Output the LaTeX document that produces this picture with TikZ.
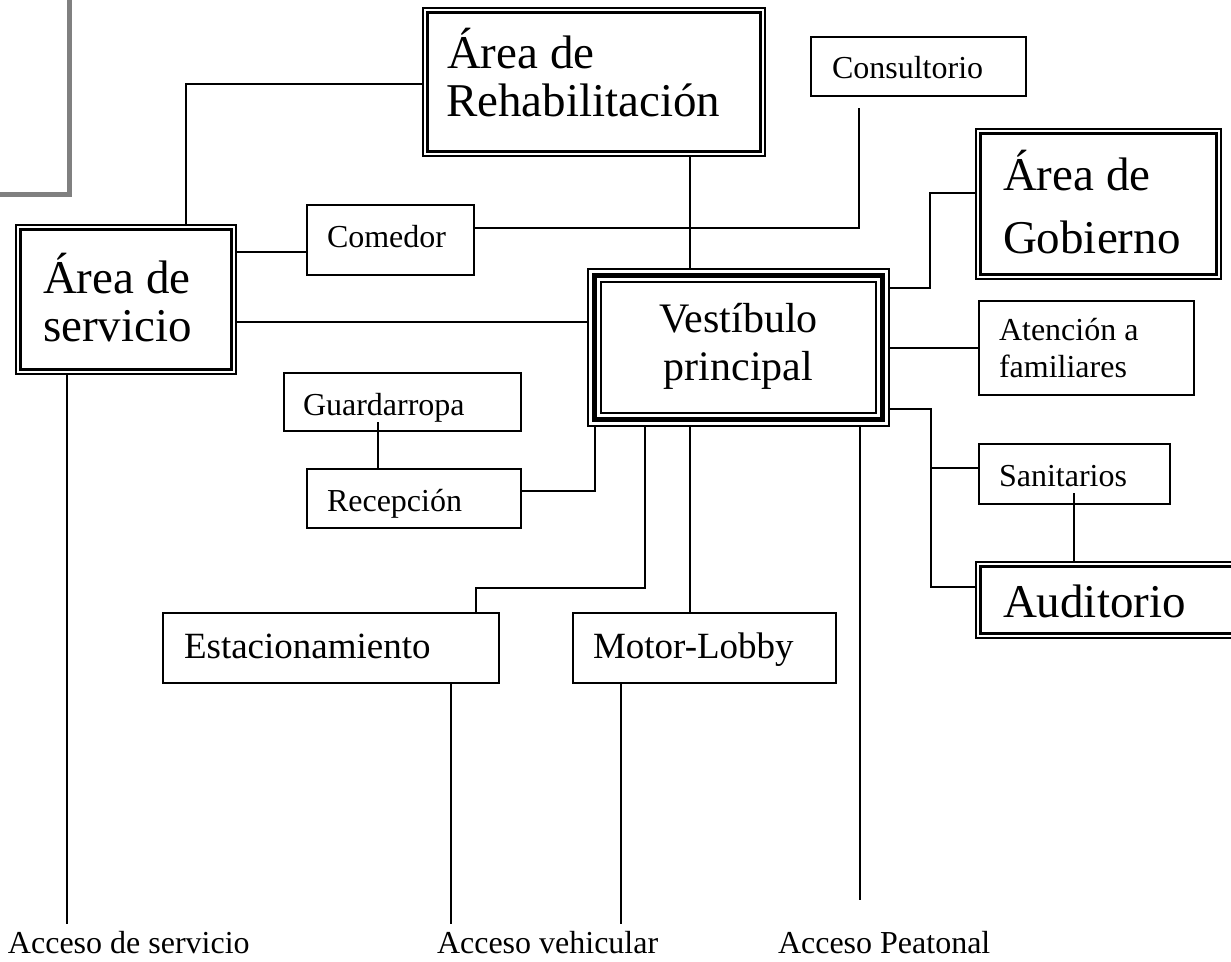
\documentclass[tikz,border=0pt]{standalone}
\usepackage{fontspec}
\setmainfont{Liberation Serif}
\newcommand\dblframe[1]{%
  \draw[line width=1.6pt] ([shift={(0.8pt,-0.8pt)}]#1.north west) rectangle ([shift={(-0.8pt,0.8pt)}]#1.south east);
  \draw[line width=3pt] ([shift={(5.5pt,-5.5pt)}]#1.north west) rectangle ([shift={(-5.5pt,5.5pt)}]#1.south east);}
\newcommand\triframe[1]{%
  \draw[line width=1.8pt] ([shift={(0.9pt,-0.9pt)}]#1.north west) rectangle ([shift={(-0.9pt,0.9pt)}]#1.south east);
  \draw[line width=5pt] ([shift={(7.5pt,-7.5pt)}]#1.north west) rectangle ([shift={(-7.5pt,7.5pt)}]#1.south east);
  \draw[line width=2.4pt] ([shift={(14pt,-14pt)}]#1.north west) rectangle ([shift={(-14pt,14pt)}]#1.south east);}
\tikzset{
  box/.style={rectangle, inner sep=0pt, outer sep=0pt},
  sbox/.style={box, draw, line width=1.8pt},
  txt/.style={anchor=base west, inner sep=0pt, outer sep=0pt},
  ctxt/.style={anchor=base, inner sep=0pt, outer sep=0pt},
  conn/.style={line width=1.8pt},
  bigf/.style={font=\fontsize{47}{50}\selectfont},
  vesf/.style={font=\fontsize{42}{46}\selectfont},
  midf/.style={font=\fontsize{37}{40}\selectfont},
  smallf/.style={font=\fontsize{32}{35}\selectfont},
}
\begin{document}
\begin{tikzpicture}[x=1pt,y=-1pt]
\useasboundingbox[fill=white] (0,0) rectangle (1231,961);

% gray corner shape
\draw[gray, line width=5pt] (69.5,-5) -- (69.5,194.5) -- (-5,194.5);

% boxes
\node[box, minimum width=344pt, minimum height=150pt] (rehab) at (594,82) {};
\node[sbox, minimum width=215pt, minimum height=59pt] (consult) at (918.5,66.5) {};
\node[sbox, minimum width=167pt, minimum height=70pt] (comedor) at (390.5,240) {};
\node[box, minimum width=222pt, minimum height=151pt] (servicio) at (126,299.5) {};
\node[box, minimum width=247pt, minimum height=152pt] (gob) at (1098.5,204) {};
\node[box, minimum width=303pt, minimum height=159pt] (vest) at (738.5,347.5) {};
\node[sbox, minimum width=215pt, minimum height=94pt] (atenc) at (1086.5,348) {};
\node[sbox, minimum width=191pt, minimum height=60pt] (sanit) at (1074.5,474) {};
\node[box, minimum width=265pt, minimum height=78pt] (audit) at (1107.5,600) {};
\node[sbox, minimum width=237pt, minimum height=58pt] (guard) at (402.5,402) {};
\node[sbox, minimum width=214pt, minimum height=59pt] (recep) at (414,498.5) {};
\node[sbox, minimum width=336pt, minimum height=70pt] (estac) at (331,648) {};
\node[sbox, minimum width=263pt, minimum height=70pt] (motor) at (704.5,648) {};

\dblframe{rehab}
\dblframe{servicio}
\dblframe{gob}
\dblframe{audit}
\triframe{vest}

% bend points and free ends
\coordinate (b1) at (186,84);
\coordinate (y2) at (270,252);
\coordinate (b3) at (859,228);
\coordinate (c3end) at (859,108);
\coordinate (x4) at (690,200);
\coordinate (y5) at (400,322);
\coordinate (b6a) at (930,288);
\coordinate (b6b) at (930,193);
\coordinate (y7) at (930,348);
\coordinate (b8a) at (931,409);
\coordinate (b8b) at (931,587);
\coordinate (b8c) at (931,468);
\coordinate (s9) at (1074,493);
\coordinate (g10) at (378,422);
\coordinate (b11) at (595,491);
\coordinate (b12a) at (645,588);
\coordinate (b12b) at (476,588);
\coordinate (x13) at (690,500);
\coordinate (e14) at (860,900);
\coordinate (e15) at (67,924);
\coordinate (e16) at (451,924);
\coordinate (e17) at (621,924);

% connectors
\draw[conn] (servicio.north -| b1) -- (b1) -- (rehab.west |- b1);
\draw[conn] (servicio.east |- y2) -- (comedor.west |- y2);
\draw[conn] (comedor.east |- b3) -- (b3) -- (c3end);
\draw[conn] (rehab.south -| x4) -- (vest.north -| x4);
\draw[conn] (servicio.east |- y5) -- (vest.west |- y5);
\draw[conn] (vest.east |- b6a) -- (b6a) -- (b6b) -- (gob.west |- b6b);
\draw[conn] (vest.east |- y7) -- (atenc.west |- y7);
\draw[conn] (vest.east |- b8a) -- (b8a) -- (b8b) -- (audit.west |- b8b);
\draw[conn] (b8c) -- (sanit.west |- b8c);
\draw[conn] (s9) -- (audit.north -| s9);
\draw[conn] (g10) -- (recep.north -| g10);
\draw[conn] (recep.east |- b11) -- (b11) -- (vest.south -| b11);
\draw[conn] (vest.south -| b12a) -- (b12a) -- (b12b) -- (estac.north -| b12b);
\draw[conn] (vest.south -| x13) -- (motor.north -| x13);
\draw[conn] (vest.south -| e14) -- (e14);
\draw[conn] (servicio.south -| e15) -- (e15);
\draw[conn] (estac.south -| e16) -- (e16);
\draw[conn] (motor.south -| e17) -- (e17);

% texts
\node[txt, bigf] (tRa) at (447,68) {Área de};
\node[txt, bigf] (tRb) at (446,116) {Rehabilitación};
\node[txt, bigf] (tSa) at (43,293) {Área de};
\node[txt, bigf] (tSb) at (43,341) {servicio};
\node[txt, bigf] (tGa) at (1003,190) {Área de};
\node[txt, bigf] (tGb) at (1003,253) {Gobierno};
\node[txt, bigf] (tAu) at (1003,617) {Auditorio};
\node[ctxt, vesf] (tVa) at (738.5,332) {Vestíbulo};
\node[ctxt, vesf] (tVb) at (738.5,380) {principal};
\node[txt, smallf] (tCo) at (832,78) {Consultorio};
\node[txt, smallf] (tCm) at (327,247) {Comedor};
\node[txt, smallf] (tAa) at (999,340) {Atención a};
\node[txt, smallf] (tAb) at (999,377) {familiares};
\node[txt, smallf] (tSn) at (999,486) {Sanitarios};
\node[txt, smallf] (tGu) at (303,415) {Guardarropa};
\node[txt, smallf] (tRe) at (327,511) {Recepción};
\node[txt, midf] (tEs) at (184,658) {Estacionamiento};
\node[txt, midf] (tMo) at (593,658) {Motor-Lobby};
\node[txt, smallf] (tAs) at (8,953) {Acceso de servicio};
\node[txt, smallf] (tAv) at (437,953) {Acceso vehicular};
\node[txt, smallf] (tAp) at (778,953) {Acceso Peatonal};
\end{tikzpicture}
\end{document}
